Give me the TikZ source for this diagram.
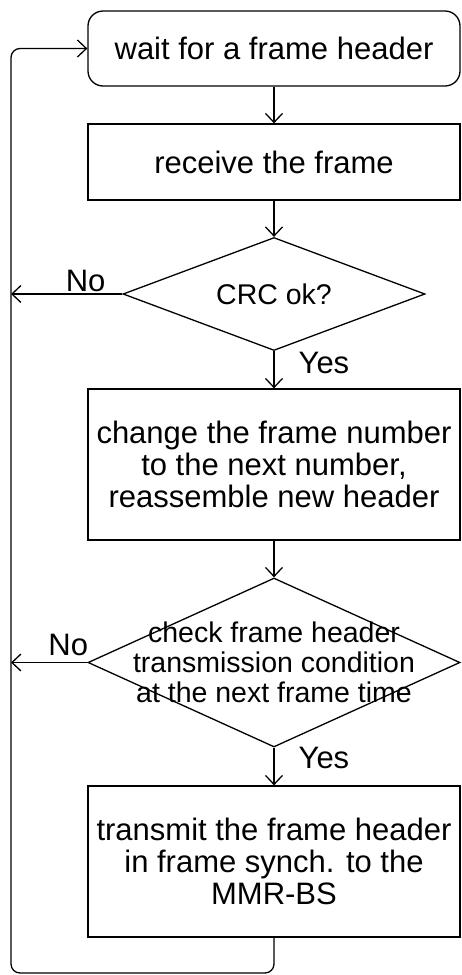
\documentclass[tikz,border=0pt]{standalone}
\usepackage{fontspec}
\setmainfont{Liberation Sans}
\usetikzlibrary{arrows.meta,shapes.geometric}
\begin{document}
\begin{tikzpicture}[x=1pt,y=-1pt,>={Straight Barb[length=9pt,width=17pt]},line width=1.3pt,
	font=\fontsize{31}{32}\selectfont,
	procbox/.style={draw,rectangle,minimum width=372pt,align=center,inner sep=0pt},
	startbox/.style={procbox,rounded corners=15pt},
	decision/.style={draw,diamond,inner sep=0pt},
	dtext/.style={align=center,font=\fontsize{28.5}{30}\selectfont},
	lbl/.style={inner sep=2pt}]
	\useasboundingbox (0,0) rectangle (461,975);
	\path (11,973) coordinate (lp);
	\node[startbox,minimum height=75pt] (wait) at (274,48.5) {wait for a frame header};
	\node[procbox,minimum height=76pt] (recv) at (274,162) {receive the frame};
	\node[decision,minimum width=302pt,minimum height=113pt] (crc) at (274,294) {};
	\node[dtext] at (crc) {CRC ok?};
	\node[procbox,minimum height=151pt] (chg) at (274,464.5) {change the frame number\\to the next number,\\reassemble new header};
	\node[decision,minimum width=372pt,minimum height=169pt] (chk) at (274,662.5) {};
	\node[dtext] at (chk) {check frame header\\transmission condition\\at the next frame time};
	\node[procbox,minimum height=151pt] (send) at (274,861.5) {transmit the frame header\\in frame synch. to the\\MMR-BS};
	\foreach \a/\b in {wait/recv,recv/crc,chg/chk} \draw[->] (\a)--(\b);
	\draw[->] (crc)--(chg) node[lbl,pos=.31,anchor=west,xshift=22pt]{Yes};
	\draw[->] (chk)--(send) node[lbl,pos=.28,anchor=west,xshift=22pt]{Yes};
	\draw[->] (crc.west)--(crc.west -| lp) node[lbl,pos=.33,anchor=south]{No};
	\draw[->] (chk.west)--(chk.west -| lp) node[lbl,pos=.25,anchor=south,yshift=4pt]{No};
	% back to the start
	\draw[->,rounded corners=9pt] (send.south) |- (lp) |- (wait.west);
\end{tikzpicture}
\end{document}
